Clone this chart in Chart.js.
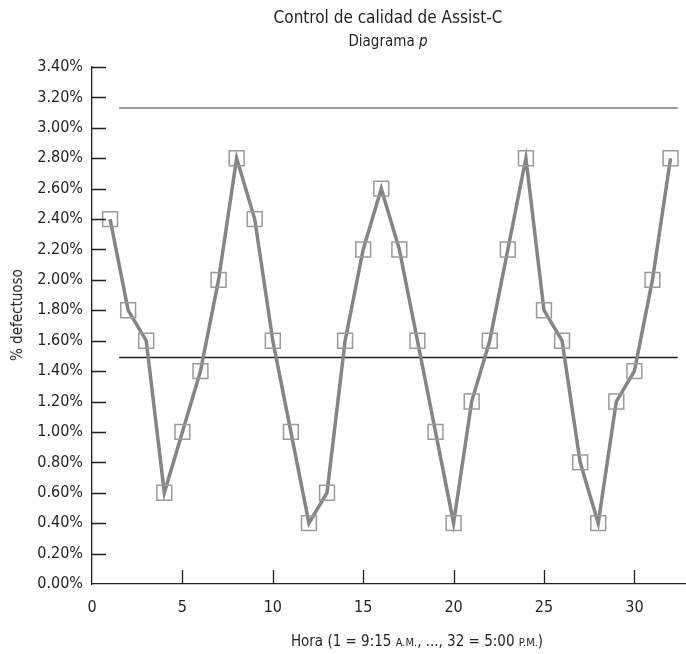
<!DOCTYPE html>
<html>
<head>
<meta charset="utf-8">
<script src="https://cdn.jsdelivr.net/npm/chart.js@4"></script>
<style>
  body{margin:0;background:#fff;}
  #wrap{position:relative;width:686px;height:654px;font-family:"Liberation Sans Narrow","DejaVu Sans Condensed",sans-serif;color:#231f20;}
  #wrap canvas{position:absolute;left:0;top:0;}
  .title{position:absolute;left:92px;width:592px;top:7px;text-align:center;font-size:17px;}
  .sub{position:absolute;left:92px;width:592px;top:32px;text-align:center;font-size:15px;}
  .ytitle{position:absolute;left:17px;top:315px;font-size:15px;white-space:nowrap;transform:translate(-50%,-50%) rotate(-90deg);}
  .xtitle{position:absolute;left:92px;width:650px;top:632px;text-align:center;font-size:15px;white-space:nowrap;}
  .sc{font-size:11px;}
</style>
</head>
<body>
<div id="wrap">
  <canvas id="c" width="686" height="654"></canvas>
  <div class="title">Control de calidad de Assist-C</div>
  <div class="sub">Diagrama <i>p</i></div>
  <div class="ytitle">% defectuoso</div>
  <div class="xtitle">Hora (1 = 9:15 <span class="sc">A.M.</span>, ..., 32 = 5:00 <span class="sc">P.M.</span>)</div>
</div>
<script>
/* ---- DATA ---- */
const hours = [1,2,3,4,5,6,7,8,9,10,11,12,13,14,15,16,17,18,19,20,21,22,23,24,25,26,27,28,29,30,31,32];
const pctDefect = [2.4,1.8,1.6,0.6,1.0,1.4,2.0,2.8,2.4,1.6,1.0,0.4,0.6,1.6,2.2,2.6,2.2,1.6,1.0,0.4,1.2,1.6,2.2,2.8,1.8,1.6,0.8,0.4,1.2,1.4,2.0,2.8];
const limitSpan = [1.5, 32.4];   // extremos horizontales de las líneas de control
const ucl = 3.13;                // límite superior de control
const center = 1.49;             // línea central
const yTicks = [0,0.2,0.4,0.6,0.8,1.0,1.2,1.4,1.6,1.8,2.0,2.2,2.4,2.6,2.8,3.0,3.2,3.4];
const xTicks = [0,5,10,15,20,25,30];

const FONT = "'Liberation Sans Narrow','DejaVu Sans Condensed',sans-serif";

// marcas de escala hacia dentro del área de trazado
const innerTicks = {
  id:"innerTicks",
  afterDatasetsDraw(chart){
    const {ctx, scales:{x, y}, chartArea:a} = chart;
    ctx.save();
    ctx.strokeStyle = "#231f20"; ctx.lineWidth = 1.3;
    ctx.beginPath();
    yTicks.forEach(v=>{ const py = Math.round(y.getPixelForValue(v))+0.5; if(v>0){ ctx.moveTo(a.left, py); ctx.lineTo(a.left+14, py);} });
    xTicks.forEach(v=>{ const px = Math.round(x.getPixelForValue(v))+0.5; if(v>0){ ctx.moveTo(px, a.bottom); ctx.lineTo(px, a.bottom-14);} });
    ctx.stroke();
    ctx.restore();
  }
};

new Chart(document.getElementById("c"), {
  type:"line",
  data:{
    datasets:[
      {label:"LSC", data:limitSpan.map(h=>({x:h, y:ucl})), borderColor:"#7a7a7a", borderWidth:1.5, pointRadius:0, order:3},
      {label:"Centro", data:limitSpan.map(h=>({x:h, y:center})), borderColor:"#231f20", borderWidth:1.5, pointRadius:0, order:2},
      {label:"% defectuoso", data:hours.map((h,i)=>({x:h, y:pctDefect[i]})),
        borderColor:"#858585", borderWidth:3.5, tension:0,
        pointStyle:"rect", pointRadius:10.5, pointBorderWidth:1.5,
        pointBorderColor:"#9a9a9a", pointBackgroundColor:"rgba(0,0,0,0)", order:1},
    ]
  },
  options:{
    responsive:false, animation:false,
    layout:{autoPadding:false, padding:{top:67, right:1, bottom:0, left:0}},
    plugins:{legend:{display:false}, tooltip:{enabled:false}},
    scales:{
      x:{type:"linear", min:0, max:32.8,
        grid:{display:false, drawTicks:false},
        border:{display:true, color:"#231f20", width:1.3},
        afterFit(s){ s.height = 70; },
        afterBuildTicks(s){ s.ticks = xTicks.map(v=>({value:v})); },
        ticks:{padding:14, color:"#231f20", font:{family:FONT, size:16}, maxRotation:0}},
      y:{min:0, max:3.4,
        grid:{display:false, drawTicks:false},
        border:{display:true, color:"#231f20", width:1.3},
        afterFit(s){ s.width = 92; },
        afterBuildTicks(s){ s.ticks = yTicks.map(v=>({value:v})); },
        ticks:{padding:9, color:"#231f20", font:{family:FONT, size:16}, callback:v=>v.toFixed(2)+"%"}}
    }
  },
  plugins:[innerTicks]
});
</script>
</body>
</html>
